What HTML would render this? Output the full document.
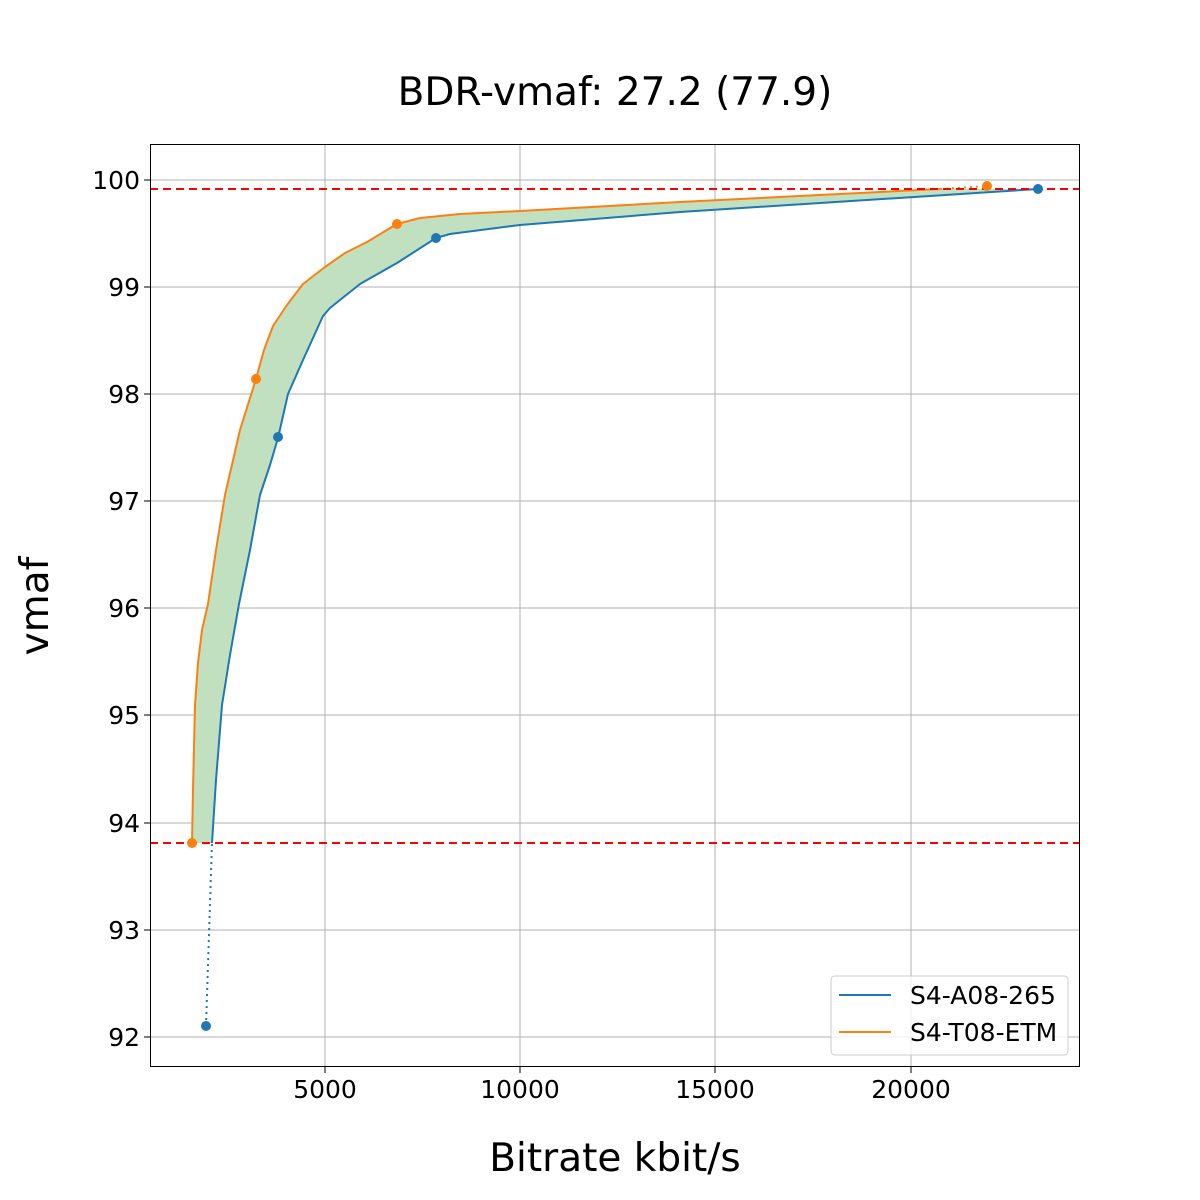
<!DOCTYPE html>
<html><head><style>body{margin:0;background:#fff}svg{display:block}</style></head><body>
<svg width="1200" height="1200" xmlns="http://www.w3.org/2000/svg" font-family="DejaVu Sans, Liberation Sans, sans-serif">
<rect width="1200" height="1200" fill="#fff"/>
<text x="615" y="105" font-size="39" text-anchor="middle">BDR-vmaf: 27.2 (77.9)</text>
<g stroke="#b0b0b0" stroke-width="1">
<line x1="325" y1="144" x2="325" y2="1067"/><line x1="520" y1="144" x2="520" y2="1067"/><line x1="715" y1="144" x2="715" y2="1067"/><line x1="911" y1="144" x2="911" y2="1067"/>
<line x1="150" y1="180" x2="1080" y2="180"/><line x1="150" y1="287" x2="1080" y2="287"/><line x1="150" y1="394" x2="1080" y2="394"/><line x1="150" y1="501" x2="1080" y2="501"/><line x1="150" y1="608" x2="1080" y2="608"/><line x1="150" y1="715" x2="1080" y2="715"/><line x1="150" y1="823" x2="1080" y2="823"/><line x1="150" y1="930" x2="1080" y2="930"/><line x1="150" y1="1037" x2="1080" y2="1037"/>
</g>
<polygon fill="#c0e0c0" points="192,843 193,789 195,705 198,663 202,630 208,604 216,550 225,495 240,430 256,379 264,350 273,326 287,305 303,284 325,267 345,253 367,242 397,224 420,218 460,214 520,211 680,202 940,189 1038,189 680,212 520,225 450,234 436,238 397,263 360,284 330,308 323,316 303,360 288,394 278,438 270,465 260,495 250,550 239,604 230,655 222,705 216,780 212,843"/>
<polyline fill="none" stroke="#ff7f0e" stroke-width="2" stroke-linejoin="round" points="192,843 193,789 195,705 198,663 202,630 208,604 216,550 225,495 240,430 256,379 264,350 273,326 287,305 303,284 325,267 345,253 367,242 397,224 420,218 460,214 520,211 680,202 940,189"/>
<polyline fill="none" stroke="#ff7f0e" stroke-width="2" stroke-dasharray="2,4" points="940,189 987,186"/>
<polyline fill="none" stroke="#1f77b4" stroke-width="2" stroke-linejoin="round" points="212,843 216,780 222,705 230,655 239,604 250,550 260,495 270,465 278,438 288,394 303,360 323,316 330,308 360,284 397,263 436,238 450,234 520,225 680,212 1038,189"/>
<polyline fill="none" stroke="#1f77b4" stroke-width="2" stroke-dasharray="2,4" points="206,1026 212,843"/>
<line x1="150" y1="189" x2="1080" y2="189" stroke="#ff0000" stroke-width="2" stroke-dasharray="8,5"/>
<line x1="150" y1="843" x2="1080" y2="843" stroke="#ff0000" stroke-width="2" stroke-dasharray="8,5"/>
<g fill="#1f77b4"><circle cx="206" cy="1026" r="5"/><circle cx="278" cy="437" r="5"/><circle cx="436" cy="238" r="5"/><circle cx="1038" cy="189" r="5"/></g>
<g fill="#ff7f0e"><circle cx="192" cy="843" r="5"/><circle cx="256" cy="379" r="5"/><circle cx="397" cy="224" r="5"/><circle cx="987" cy="186" r="5"/></g>
<rect x="150.5" y="144.5" width="929" height="922" fill="none" stroke="#000" stroke-width="1"/>
<g stroke="#000"><line x1="325" y1="1067" x2="325" y2="1073"/><line x1="520" y1="1067" x2="520" y2="1073"/><line x1="715" y1="1067" x2="715" y2="1073"/><line x1="911" y1="1067" x2="911" y2="1073"/>
<line x1="144" y1="180" x2="150" y2="180"/><line x1="144" y1="287" x2="150" y2="287"/><line x1="144" y1="394" x2="150" y2="394"/><line x1="144" y1="501" x2="150" y2="501"/><line x1="144" y1="608" x2="150" y2="608"/><line x1="144" y1="715" x2="150" y2="715"/><line x1="144" y1="823" x2="150" y2="823"/><line x1="144" y1="930" x2="150" y2="930"/><line x1="144" y1="1037" x2="150" y2="1037"/></g>
<g font-size="25" text-anchor="middle"><text x="325" y="1098">5000</text><text x="520" y="1098">10000</text><text x="715" y="1098">15000</text><text x="911" y="1098">20000</text></g>
<g font-size="25" text-anchor="end"><text x="140" y="189">100</text><text x="140" y="296">99</text><text x="140" y="403">98</text><text x="140" y="510">97</text><text x="140" y="617">96</text><text x="140" y="724">95</text><text x="140" y="832">94</text><text x="140" y="939">93</text><text x="140" y="1046">92</text></g>
<text x="615" y="1171" font-size="39" text-anchor="middle">Bitrate kbit/s</text>
<text transform="translate(48,606) rotate(-90)" font-size="39" text-anchor="middle">vmaf</text>
<rect x="831" y="976" width="237" height="79" rx="4" fill="#fff" fill-opacity="0.8" stroke="#ccc"/>
<line x1="839" y1="995" x2="891" y2="995" stroke="#1f77b4" stroke-width="2"/>
<line x1="839" y1="1032" x2="891" y2="1032" stroke="#ff7f0e" stroke-width="2"/>
<g font-size="25"><text x="910" y="1004">S4-A08-265</text><text x="910" y="1041">S4-T08-ETM</text></g>
</svg>
</body></html>
